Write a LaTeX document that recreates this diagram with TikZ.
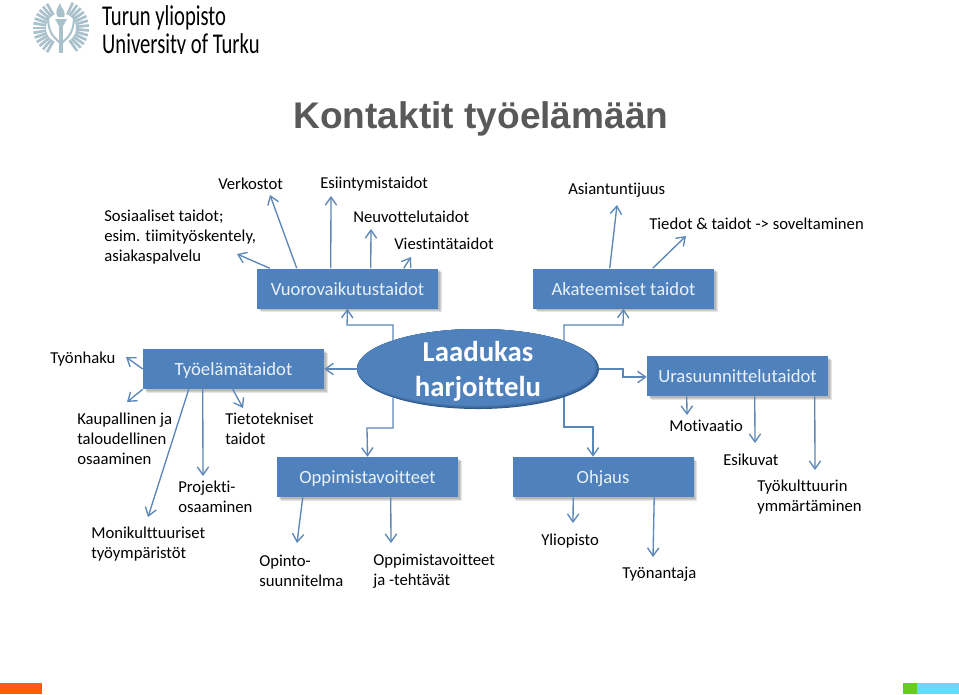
\documentclass[tikz,border=0pt]{standalone}
\usepackage{fontspec}
\setmainfont[RawFeature={-liga;-dlig;-clig}]{Carlito}
\newfontfamily\titlefont{Liberation Sans}
\usetikzlibrary{arrows.meta,shapes.geometric,shadows,calc}
\definecolor{boxblue}{HTML}{4F81BD}
\definecolor{linkblue}{HTML}{5B86B8}
\definecolor{rimblue}{HTML}{2A5586}
\definecolor{logoblue}{HTML}{A9C1CB}
\definecolor{titlegray}{HTML}{595959}
\definecolor{boxtext}{HTML}{EAF1FA}
\definecolor{footorange}{RGB}{255,90,15}
\definecolor{footgreen}{RGB}{102,204,34}
\definecolor{footcyan}{RGB}{102,217,255}
\tikzset{
  softshadow/.style={
    drop shadow={shadow xshift=1.2pt,shadow yshift=-1.2pt,fill=black,opacity=.10},
    drop shadow={shadow xshift=1.9pt,shadow yshift=-1.9pt,fill=black,opacity=.10},
    drop shadow={shadow xshift=2.7pt,shadow yshift=-2.7pt,fill=black,opacity=.10}},
  bluebox/.style={rectangle,fill=boxblue,softshadow,minimum width=135.75pt,minimum height=30pt,inner sep=0pt,
    text=boxtext,text height=11.2pt,text depth=1pt,font=\fontsize{14}{16}\selectfont},
  label/.style={anchor=west,inner sep=0pt,align=left,text=black,yshift=-.6pt,font=\fontsize{12.5}{15}\selectfont},
  link/.style={draw=linkblue,line width=1pt,-{Straight Barb[length=6pt,width=8.5pt,line width=1pt]}},
  logotext/.style={anchor=west,inner sep=0pt,xscale=.72,font=\fontsize{21.5}{22}\selectfont}
}
\begin{document}
\begin{tikzpicture}[x=.75pt,y=-.75pt]
\useasboundingbox (0,0) rectangle (959,694);
\fill[white] (0,0) rectangle (959,694);

% logo
\foreach \a in {-65,-55,...,60}{\draw[logoblue,line width=2pt] (61,28)++(\a:15) -- ++(\a:13);}
\foreach \a in {120,130,...,245}{\draw[logoblue,line width=2pt] (61,28)++(\a:15) -- ++(\a:13);}
\draw[logoblue,line width=1.5pt] (48,16) .. controls (48,36) and (56,38) .. (61,44) .. controls (66,38) and (74,36) .. (74,16);
\draw[logoblue,line width=2.4pt] (61,20) -- (61,53);
\fill[logoblue] (55,19) -- (67,19) -- (63,26) -- (59,26) -- cycle;
\fill[logoblue] (58,17) .. controls (54,11) and (58,8) .. (60,3) .. controls (61,8) and (63,7) .. (64,11) .. controls (65,13) and (65,15) .. (64,17) -- cycle;
\node[logotext] (logoa) at (102,18) {Turun yliopisto};
\node[logotext] (logob) at (102,46) {University of Turku};
\fill[white] (95,54) rectangle (280,64);

% title
\node[inner sep=0pt,anchor=center,text=titlegray,font=\titlefont\bfseries\fontsize{27.8}{30}\selectfont] (title) at (481,119) {Kontaktit työelämään};

% labels
\node[label] (verk) at (218,183) {Verkostot};
\node[label] (esi) at (320,183) {Esiintymistaidot};
\node[label] (neu) at (353,216) {Neuvottelutaidot};
\node[label] (vie) at (394,243) {Viestintätaidot};
\node[label] (sos) at (104,236) {Sosiaaliset taidot;\\esim. tiimityöskentely,\\asiakaspalvelu};
\node[label] (asi) at (568,189) {Asiantuntijuus};
\node[label] (tie) at (649,223) {Tiedot \& taidot -> soveltaminen};
\node[label] (tyon) at (50,358) {Työnhaku};
\node[label] (kau) at (77,438) {Kaupallinen ja\\taloudellinen\\osaaminen};
\node[label] (tiet) at (225,428) {Tietotekniset\\taidot};
\node[label] (pro) at (178,496) {Projekti-\\osaaminen};
\node[label] (mon) at (91,543) {Monikulttuuriset\\työympäristöt};
\node[label] (opi) at (259,570) {Opinto-\\suunnitelma};
\node[label] (opt) at (373,570) {Oppimistavoitteet\\ja -tehtävät};
\node[label] (yli) at (541,540) {Yliopisto};
\node[label] (tan) at (622,573) {Työnantaja};
\node[label] (mot) at (669,425) {Motivaatio};
\node[label] (esk) at (723,459) {Esikuvat};
\node[label] (tku) at (757,496) {Työkulttuurin\\ymmärtäminen};

% boxes
\node[bluebox] (vuo) at (347.5,288.5) {Vuorovaikutustaidot};
\node[bluebox] (aka) at (623.5,288.5) {Akateemiset taidot};
\node[bluebox] (tyo) at (233.5,369) {Työelämätaidot};
\node[bluebox] (ops) at (367.5,477) {Oppimistavoitteet};
\node[bluebox] (ohj) at (603,477) {Ohjaus};
\node[bluebox] (ura) at (737.5,376) {Urasuunnittelutaidot};

% central ellipse
\node[ellipse,fill=rimblue,minimum width=181.5pt,minimum height=60pt,inner sep=0pt,
  path picture={
    \coordinate (pc) at (path picture bounding box.center);
    \fill[rimblue!65!boxblue] ($(pc)+(-.5,-.5)$) ellipse [x radius=120.5,y radius=39.8];
    \fill[rimblue!40!boxblue] ($(pc)+(-1,-1)$) ellipse [x radius=120,y radius=39.4];
    \fill[rimblue!20!boxblue] ($(pc)+(-1.5,-1.5)$) ellipse [x radius=119.6,y radius=39];
    \fill[boxblue] ($(pc)+(-2,-2)$) ellipse [x radius=119,y radius=38.6];
  }] (ell) at (478,369) {};
\node[inner sep=0pt,text=white,align=center,font=\bfseries\fontsize{21.6}{26.2}\selectfont] (elltext) at (478,371.5) {Laadukas\\harjoittelu};

% connector end points
\coordinate (eVerk) at (270,195);
\coordinate (eSos) at (237,254);
\coordinate (eEsi) at (331,196);
\coordinate (eNeu) at (371,229);
\coordinate (eVie) at (411,257);
\coordinate (eAsi) at (617,205);
\coordinate (eTie) at (686,236);
\coordinate (eTyon) at (126,357);
\coordinate (eKau) at (127,402);
\coordinate (eMon) at (148,517);
\coordinate (ePro) at (203,476);
\coordinate (eTiet) at (243,408);
\coordinate (eOpi) at (297,543);
\coordinate (eOpt) at (391,543);
\coordinate (eYli) at (573,523);
\coordinate (eTan) at (653,557);
\coordinate (eMot) at (687,415);
\coordinate (eEsk) at (755,443);
\coordinate (eTku) at (815,470);

% connectors from the boxes
\draw[link] ($(vuo.north west)+(40,0)$) -- (eVerk);
\draw[link] ($(vuo.north west)+(13,0)$) -- (eSos);
\draw[link] ($(vuo.north west)+(74,0)$) -- (eEsi);
\draw[link] ($(vuo.north west)+(114,0)$) -- (eNeu);
\draw[link] ($(vuo.north west)+(147,0)$) -- (eVie);
\draw[link] ($(aka.north west)+(77,0)$) -- (eAsi);
\draw[link] ($(aka.north west)+(120,0)$) -- (eTie);
\draw[link] (tyo.west) -- (eTyon);
\draw[link] (tyo.south west) -- (eKau);
\draw[link] ($(tyo.south west)+(46,0)$) -- (eMon);
\draw[link] ($(tyo.south west)+(60,0)$) -- (ePro);
\draw[link] ($(tyo.south west)+(90,0)$) -- (eTiet);
\draw[link] ($(ops.south west)+(26,0)$) -- (eOpi);
\draw[link] ($(ops.south west)+(114,0)$) -- (eOpt);
\draw[link] ($(ohj.south west)+(61,0)$) -- (eYli);
\draw[link] ($(ohj.south west)+(142,0)$) -- (eTan);
\draw[link] ($(ura.south west)+(40,0)$) -- (eMot);
\draw[link] ($(ura.south west)+(108,0)$) -- (eEsk);
\draw[link] ($(ura.south west)+(168,0)$) -- (eTku);

% connectors from the ellipse
\draw[link] ($(ell.center)+(-85,-28.5)$) |- (347,325) -- (vuo.south);
\draw[link] ($(ell.center)+(86,-28)$) |- (623,325) -- (aka.south);
\draw[link] (ell.west) -- (tyo.east);
\draw[link] (ell.east) -- (623,369) -- (623,377) -- (ura.west |- 0,377);
\draw[link] ($(ell.center)+(-85,28.5)$) |- (367,428) -- (ops.north);
\draw[link] ($(ell.center)+(86,28)$) |- (593,427) -- (ohj.north -| 593,0);

% footer strip
\fill[footorange] (0,683) rectangle (41.5,694);
\fill[footgreen] (903,683) rectangle (917,694);
\fill[footcyan] (917,683) rectangle (959,694);
\end{tikzpicture}
\end{document}
